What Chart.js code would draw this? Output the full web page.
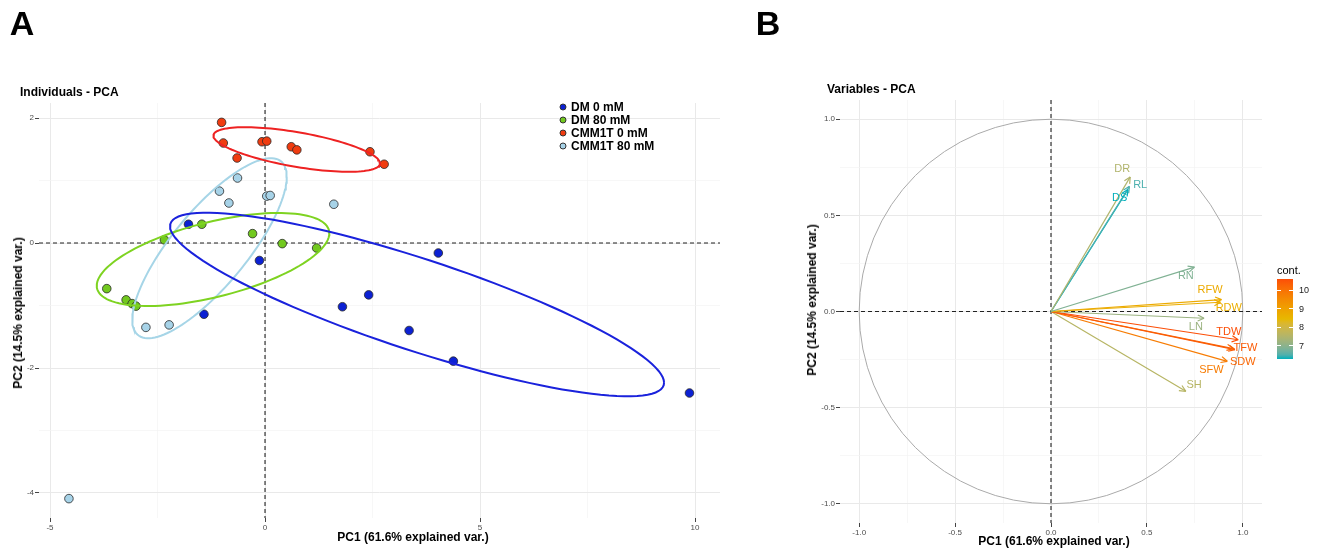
<!DOCTYPE html>
<html lang="en">
<head>
<meta charset="UTF-8">
<title>PCA - individuals and variables</title>
<script src="https://cdn.jsdelivr.net/npm/chart.js"></script>
<style>
  body { margin: 0; background: #fff; font-family: "Liberation Sans", Arial, sans-serif; }
  #wrap { position: relative; width: 1320px; height: 549px; overflow: hidden; }
  canvas { position: absolute; top: 0; }
  .txt { position: absolute; white-space: nowrap; color: #000; line-height: 1; transform: translate(-50%, -50%); }
  .left { transform: translate(0, -50%); }
  .panel { font-size: 34px; font-weight: bold; }
  .ttl { font-size: 12px; font-weight: bold; }
  .axt { font-size: 12px; font-weight: bold; }
  .rot { transform: translate(-50%, -50%) rotate(-90deg); }
  .leg { font-size: 12px; font-weight: bold; }
  .dot { position: absolute; width: 7px; height: 7px; border-radius: 50%; box-sizing: border-box; border: 0.8px solid #333; transform: translate(-50%, -50%); }
  #cbar { position: absolute; left: 1277px; top: 279px; width: 16px; height: 80px; }
  .cbt { font-size: 9px; color: #222; }
</style>
</head>
<body>
<div id="wrap">
  <canvas id="pcaInd" width="740" height="549" style="left:0px"></canvas>
  <canvas id="pcaVar" width="540" height="549" style="left:780px"></canvas>

  <div class="txt panel" style="left:22px;top:23px">A</div>
  <div class="txt panel" style="left:768px;top:23px">B</div>
  <div class="txt ttl left" style="left:20px;top:92px">Individuals - PCA</div>
  <div class="txt ttl left" style="left:827px;top:89px">Variables - PCA</div>

  <div class="txt axt" style="left:413px;top:537px">PC1 (61.6% explained var.)</div>
  <div class="txt axt rot" style="left:18px;top:313px">PC2 (14.5% explained var.)</div>
  <div class="txt axt" style="left:1054px;top:541px">PC1 (61.6% explained var.)</div>
  <div class="txt axt rot" style="left:812px;top:300px">PC2 (14.5% explained var.)</div>

  <div id="legendA"></div>

  <div class="txt left" style="left:1277px;top:270px;font-size:11px">cont.</div>
  <div id="cbar"></div>
  <div id="cbarTicks"></div>
</div>

<script>
// ---- panel A: individuals ----
const groups = ['DM 0 mM', 'DM 80 mM', 'CMM1T 0 mM', 'CMM1T 80 mM'];

const pc1DM0 = [-1.78, -0.13, -1.42, 1.80, 2.41, 3.35, 4.03, 4.38, 9.87];
const pc2DM0 = [0.30, -0.28, -1.14, -1.02, -0.83, -1.40, -0.16, -1.89, -2.40];

const pc1DM80 = [-1.47, -0.29, 0.40, 1.20, -2.34, -3.68, -3.23, -3.09, -3.00];
const pc2DM80 = [0.30, 0.15, -0.01, -0.08, 0.05, -0.73, -0.91, -0.97, -1.01];

const pc1CMM0 = [-1.01, -0.97, -0.65, -0.07, 0.04, 0.61, 0.74, 2.44, 2.77];
const pc2CMM0 = [1.93, 1.60, 1.36, 1.62, 1.63, 1.54, 1.49, 1.46, 1.26];

const pc1CMM80 = [-0.64, -1.06, -0.84, 0.04, 0.12, 1.60, -2.77, -2.23, -4.56];
const pc2CMM80 = [1.04, 0.83, 0.64, 0.75, 0.76, 0.62, -1.35, -1.31, -4.09];

// group ellipses: centre, right-most point, vertical half chord through the centre
const ellCenterX = [3.535, -1.209, 0.737, -1.291];
const ellCenterY = [-0.984, -0.264, 1.496, -0.083];
const ellRightX  = [9.279, 1.495, 2.674, 0.505];
const ellRightY  = [-2.235, 0.155, 1.275, 1.061];
const ellHalfH   = [0.770, 0.615, 0.280, 0.875];

const gridXA = [-5, -2.5, 0, 2.5, 5, 7.5, 10];
const gridYA = [-4, -3, -2, -1, 0, 1, 2];

// ---- panel B: variables ----
const varNames   = ['DR', 'RL', 'DS', 'RN', 'RFW', 'RDW', 'LN', 'TDW', 'TFW', 'SDW', 'SFW', 'SH'];
const varPC1     = [0.413, 0.409, 0.401, 0.748, 0.889, 0.884, 0.798, 0.976, 0.959, 0.950, 0.919, 0.703];
const varPC2     = [0.700, 0.651, 0.634, 0.231, 0.062, 0.048, -0.035, -0.147, -0.198, -0.193, -0.259, -0.415];
const varContrib = [7.5, 6.5, 6.3, 6.9, 8.8, 8.7, 7.2, 10.6, 10.4, 10.2, 9.8, 7.6];

const gridB = [-1, -0.75, -0.5, -0.25, 0, 0.25, 0.5, 0.75, 1];
const contTicks = [7, 8, 9, 10];

// ---- styling ----
const FONT = '"Liberation Sans", Arial, sans-serif';
const pointColors = ['#0c21d3', '#72c91f', '#f03c10', '#a7d3e8'];
const ellColors   = ['#1a22dc', '#7ed321', '#ee2222', '#a6d5e7'];
const gradCols = ['#00AFBB', '#E7B800', '#FC4E07'];

// label placement for the variable names (data units)
const labelAt = {
  DR: [0.371, 0.743], RL: [0.465, 0.660], DS: [0.358, 0.592], RN: [0.703, 0.186],
  RFW: [0.829, 0.113], RDW: [0.927, 0.019], LN: [0.755, -0.082], TDW: [0.927, -0.108],
  TFW: [1.014, -0.189], SDW: [1.000, -0.264], SFW: [0.836, -0.304], SH: [0.746, -0.382]
};

// colour ramp in Lab space, like ggplot's gradientn
function hexRgb(h) { return [1, 3, 5].map(i => parseInt(h.slice(i, i + 2), 16)); }
function toLab(rgb) {
  const l = rgb.map(c => { c /= 255; return c <= 0.04045 ? c / 12.92 : Math.pow((c + 0.055) / 1.055, 2.4); });
  const X = (0.4124564 * l[0] + 0.3575761 * l[1] + 0.1804375 * l[2]) / 0.95047;
  const Y = 0.2126729 * l[0] + 0.7151522 * l[1] + 0.0721750 * l[2];
  const Z = (0.0193339 * l[0] + 0.1191920 * l[1] + 0.9503041 * l[2]) / 1.08883;
  const f = t => t > 0.008856 ? Math.cbrt(t) : 7.787 * t + 16 / 116;
  return [116 * f(Y) - 16, 500 * (f(X) - f(Y)), 200 * (f(Y) - f(Z))];
}
function fromLab(lab) {
  const fy = (lab[0] + 16) / 116, fx = fy + lab[1] / 500, fz = fy - lab[2] / 200;
  const fi = t => t * t * t > 0.008856 ? t * t * t : (t - 16 / 116) / 7.787;
  const X = 0.95047 * fi(fx), Y = fi(fy), Z = 1.08883 * fi(fz);
  const lin = [
    3.2404542 * X - 1.5371385 * Y - 0.4985314 * Z,
    -0.9692660 * X + 1.8760108 * Y + 0.0415560 * Z,
    0.0556434 * X - 0.2040259 * Y + 1.0572252 * Z
  ];
  const c = lin.map(v => {
    v = v <= 0.0031308 ? 12.92 * v : 1.055 * Math.pow(v, 1 / 2.4) - 0.055;
    return Math.round(Math.max(0, Math.min(1, v)) * 255);
  });
  return 'rgb(' + c.join(',') + ')';
}
const gradLab = gradCols.map(h => toLab(hexRgb(h)));
const contMin = Math.min(...varContrib), contMax = Math.max(...varContrib);
function contColor(v) {
  let t = (v - contMin) / (contMax - contMin);
  t = Math.max(0, Math.min(1, t));
  const seg = t < 0.5 ? 0 : 1;
  const u = seg === 0 ? t * 2 : (t - 0.5) * 2;
  const a = gradLab[seg], b = gradLab[seg + 1];
  return fromLab([0, 1, 2].map(k => a[k] + (b[k] - a[k]) * u));
}

// ---- helpers ----
function pairs(xs, ys) { return xs.map((v, i) => ({ x: v, y: ys[i] })); }
function ellipsePoints(i) {
  const pts = [];
  for (let k = 0; k <= 120; k++) {
    const t = 2 * Math.PI * k / 120;
    pts.push({
      x: ellCenterX[i] + (ellRightX[i] - ellCenterX[i]) * Math.cos(t),
      y: ellCenterY[i] + (ellRightY[i] - ellCenterY[i]) * Math.cos(t) + ellHalfH[i] * Math.sin(t)
    });
  }
  return pts;
}

function zeroLines(chart) {
  const { ctx, chartArea: a, scales: { x, y } } = chart;
  const x0 = x.getPixelForValue(0), y0 = y.getPixelForValue(0);
  ctx.save();
  ctx.setLineDash([4, 3]);
  ctx.strokeStyle = '#222';
  ctx.lineWidth = 1.1;
  ctx.beginPath();
  ctx.moveTo(x0, a.top); ctx.lineTo(x0, a.bottom);
  ctx.moveTo(a.left, y0); ctx.lineTo(a.right, y0);
  ctx.stroke();
  ctx.restore();
}

function axisOpts(min, max, grid, isMajor, fmt, size) {
  return {
    type: 'linear', min: min, max: max,
    afterBuildTicks: s => { s.ticks = grid.map(v => ({ value: v })); },
    afterFit: size,
    border: { display: false },
    grid: {
      color: c => (c.tick && isMajor(c.tick.value)) ? '#e9e9e9' : '#f3f3f3',
      lineWidth: c => (c.tick && isMajor(c.tick.value)) ? 1 : 0.7,
      drawTicks: true,
      tickLength: 4,
      tickColor: c => (c.tick && isMajor(c.tick.value)) ? '#444' : 'rgba(0,0,0,0)'
    },
    ticks: {
      autoSkip: false, maxRotation: 0, padding: 1,
      color: '#4d4d4d', font: { size: 8, family: FONT },
      callback: v => isMajor(v) ? fmt(v) : ''
    }
  };
}

// ---- panel A chart ----
const pcX = [pc1DM0, pc1DM80, pc1CMM0, pc1CMM80];
const pcY = [pc2DM0, pc2DM80, pc2CMM0, pc2CMM80];
const datasetsA = [];
groups.forEach((g, i) => {
  datasetsA.push({
    label: g + ' ellipse', data: ellipsePoints(i), showLine: true,
    borderColor: ellColors[i], borderWidth: 2, pointRadius: 0, fill: false, order: 0
  });
});
groups.forEach((g, i) => {
  datasetsA.push({
    label: g, data: pairs(pcX[i], pcY[i]),
    backgroundColor: pointColors[i], borderColor: '#2a2a2a', borderWidth: 0.8,
    pointRadius: 4.3, order: 1
  });
});

new Chart(document.getElementById('pcaInd'), {
  type: 'scatter',
  data: { datasets: datasetsA },
  options: {
    responsive: false, animation: false, events: [],
    layout: { padding: { top: 103, right: 20, left: 0, bottom: 0 } },
    plugins: { legend: { display: false }, tooltip: { enabled: false } },
    scales: {
      x: axisOpts(-5.256, 10.58, gridXA, v => v % 5 === 0, v => String(v), s => { s.height = 31; }),
      y: axisOpts(-4.4, 2.24, gridYA, v => v % 2 === 0, v => String(v), s => { s.width = 39; })
    }
  },
  plugins: [{ id: 'zeroA', beforeDatasetsDraw: zeroLines }]
});

// legend for panel A
const legA = document.getElementById('legendA');
const legY = [107, 120, 133, 146];
groups.forEach((g, i) => {
  const d = document.createElement('div');
  d.className = 'dot';
  d.style.left = '563px'; d.style.top = legY[i] + 'px';
  d.style.background = pointColors[i];
  legA.appendChild(d);
  const t = document.createElement('div');
  t.className = 'txt left leg';
  t.style.left = '571px'; t.style.top = legY[i] + 'px';
  t.textContent = g;
  legA.appendChild(t);
});

// ---- panel B chart ----
const varColors = varContrib.map(contColor);
const datasetsB = varNames.map((n, i) => ({
  label: n, data: [{ x: 0, y: 0 }, { x: varPC1[i], y: varPC2[i] }], showLine: true,
  borderColor: varColors[i], borderWidth: 1.2, pointRadius: 0, fill: false
}));

const isHalf = v => Math.abs(v * 2 - Math.round(v * 2)) < 1e-9;
new Chart(document.getElementById('pcaVar'), {
  type: 'scatter',
  data: { datasets: datasetsB },
  options: {
    responsive: false, animation: false, events: [],
    layout: { padding: { top: 100, right: 58, left: 0, bottom: 0 } },
    plugins: { legend: { display: false }, tooltip: { enabled: false } },
    scales: {
      x: axisOpts(-1.1, 1.1, gridB, isHalf, v => v.toFixed(1), s => { s.height = 26; }),
      y: axisOpts(-1.1, 1.1, gridB, isHalf, v => v.toFixed(1), s => { s.width = 60; })
    }
  },
  plugins: [{
    id: 'circleArrows',
    beforeDatasetsDraw(chart) {
      const { ctx, scales: { x, y } } = chart;
      const cx = x.getPixelForValue(0), cy = y.getPixelForValue(0);
      ctx.save();
      ctx.strokeStyle = '#aaaaaa';
      ctx.lineWidth = 1;
      ctx.beginPath();
      ctx.ellipse(cx, cy, x.getPixelForValue(1) - cx, cy - y.getPixelForValue(1), 0, 0, 2 * Math.PI);
      ctx.stroke();
      ctx.restore();
      zeroLines(chart);
    },
    afterDatasetsDraw(chart) {
      const { ctx, scales: { x, y } } = chart;
      ctx.save();
      chart.data.datasets.forEach((ds, i) => {
        const pts = chart.getDatasetMeta(i).data;
        const p0 = pts[0], p1 = pts[1];
        const ang = Math.atan2(p1.y - p0.y, p1.x - p0.x);
        ctx.strokeStyle = ds.borderColor;
        ctx.lineWidth = 1.2;
        ctx.beginPath();
        [0.45, -0.45].forEach(d => {
          ctx.moveTo(p1.x, p1.y);
          ctx.lineTo(p1.x - 7 * Math.cos(ang + d), p1.y - 7 * Math.sin(ang + d));
        });
        ctx.stroke();
      });
      ctx.font = '11px ' + FONT;
      ctx.textAlign = 'center';
      ctx.textBaseline = 'middle';
      varNames.forEach((n, i) => {
        const p = labelAt[n];
        ctx.fillStyle = varColors[i];
        ctx.fillText(n, x.getPixelForValue(p[0]), y.getPixelForValue(p[1]));
      });
      ctx.restore();
    }
  }]
});

// colour bar for contributions
const bar = document.getElementById('cbar');
const stops = [];
for (let k = 0; k <= 20; k++) {
  const v = contMin + (contMax - contMin) * k / 20;
  stops.push(contColor(v) + ' ' + (k * 5) + '%');
}
bar.style.background = 'linear-gradient(to top, ' + stops.join(', ') + ')';
const barTop = 279, barH = 80;
const cbt = document.getElementById('cbarTicks');
contTicks.forEach(v => {
  const yy = barTop + (contMax - v) / (contMax - contMin) * barH;
  const t = document.createElement('div');
  t.className = 'txt left cbt';
  t.style.left = '1299px'; t.style.top = yy + 'px';
  t.textContent = String(v);
  cbt.appendChild(t);
  ['1277px', '1289px'].forEach(lx => {
    const m = document.createElement('div');
    m.style.cssText = 'position:absolute;width:4px;height:1px;background:#fff;left:' + lx + ';top:' + (yy - 0.5) + 'px';
    cbt.appendChild(m);
  });
});
</script>
</body>
</html>
